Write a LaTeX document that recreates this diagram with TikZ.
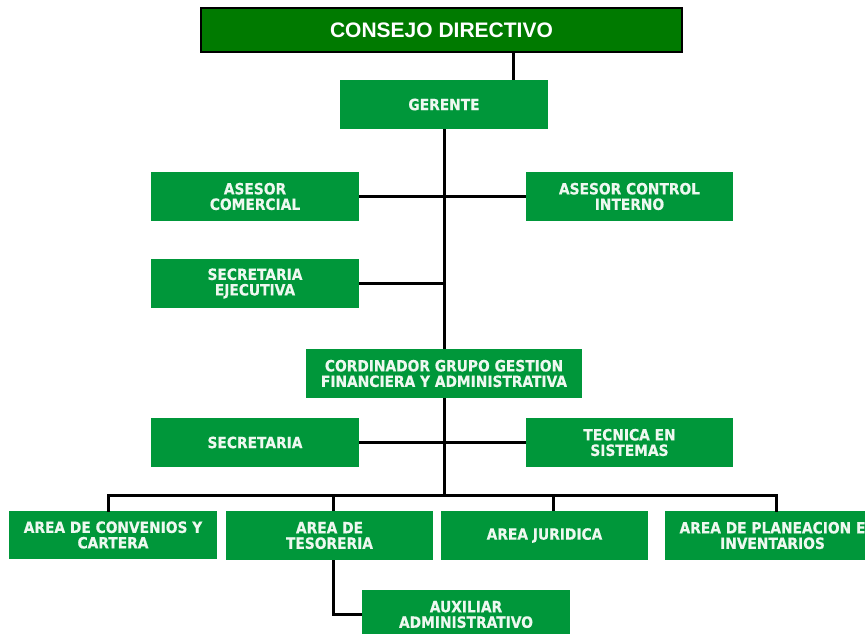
\documentclass[tikz,border=0pt]{standalone}
\usepackage{fontspec}
\setmainfont{Liberation Sans}
\newfontfamily\boxfont{DejaVu Sans}[FakeStretch=0.89, BoldFeatures={FakeBold=0.4}]
\usetikzlibrary{calc}
\definecolor{darkboard}{HTML}{007A00}
\definecolor{unitgreen}{HTML}{00973A}
\definecolor{paletext}{HTML}{EEF8F0}
\tikzset{
  board/.style={draw=black, line width=1.6pt, fill=darkboard, text=white,
    minimum width=481pt, minimum height=44pt, inner sep=0pt,
    font=\bfseries\fontsize{21}{23}\selectfont},
  unit/.style={fill=unitgreen, text=paletext, inner sep=0pt, align=center,
    minimum width=208pt, minimum height=49pt,
    font=\boxfont\bfseries\fontsize{15.5}{15.5}\selectfont},
  link/.style={draw=black, line width=3pt},
}
\begin{document}
\begin{tikzpicture}[x=1pt, y=-1pt]
\useasboundingbox (0,0) rectangle (865,634);
\clip (0,0) rectangle (865,634);

% governing board and manager
\node[board] (consejo) at (441.5,30) {CONSEJO DIRECTIVO};
\node[unit] (gerente) at (444,104.5) {GERENTE};

% advisors and executive secretary
\node[unit] (asesorcom) at (255,196.5) {ASESOR\\COMERCIAL};
\node[unit, minimum width=207pt] (asesorci) at (629.5,196.5) {ASESOR CONTROL\\INTERNO};
\node[unit] (secejec) at (255,283.5) {SECRETARIA\\EJECUTIVA};

% coordination level
\node[unit, minimum width=276pt] (coord) at (444,373.5) {CORDINADOR GRUPO GESTION\\FINANCIERA Y ADMINISTRATIVA};
\node[unit] (secretaria) at (255,442.5) {SECRETARIA};
\node[unit, minimum width=207pt] (tecnica) at (629.5,442.5) {TECNICA EN\\SISTEMAS};

% operating areas
\node[unit, minimum height=48pt] (convenios) at (113,535) {AREA DE CONVENIOS Y\\CARTERA};
\node[unit, minimum width=207pt] (tesoreria) at (329.5,535.5) {AREA DE\\TESORERIA};
\node[unit, minimum width=207pt] (juridica) at (544.5,535.5) {AREA JURIDICA};
\node[unit, minimum width=215pt] (planeacion) at (772.5,535.5) {AREA DE PLANEACION E\\INVENTARIOS};
\node[unit] (auxiliar) at (466,614.5) {AUXILIAR\\ADMINISTRATIVO};

% helper points for the connectors
\coordinate (boardlink) at (513,0);
\coordinate (bus) at (0,495);

% connectors
\draw[link] (consejo.south -| boardlink) -- (gerente.north -| boardlink);
\draw[link] (gerente.south) -- (coord.north);
\draw[link] (asesorcom.east) -- (asesorci.west);
\draw[link] (secejec.east) -- (secejec.east -| gerente.south);
\draw[link] (coord.south) -- (coord.south |- bus);
\draw[link] (secretaria.east) -- (tecnica.west);
\draw[link, line cap=rect]
  ([xshift=-5pt]convenios.north) |- ([xshift=3.5pt]planeacion.north |- bus)
  -- ([xshift=3.5pt]planeacion.north);
\draw[link] ([xshift=4pt]tesoreria.north) -- ([xshift=4pt]tesoreria.north |- bus);
\draw[link] ([xshift=8.5pt]juridica.north) -- ([xshift=8.5pt]juridica.north |- bus);
\draw[link] ([xshift=4pt]tesoreria.south) |- (auxiliar.west);
\end{tikzpicture}
\end{document}
